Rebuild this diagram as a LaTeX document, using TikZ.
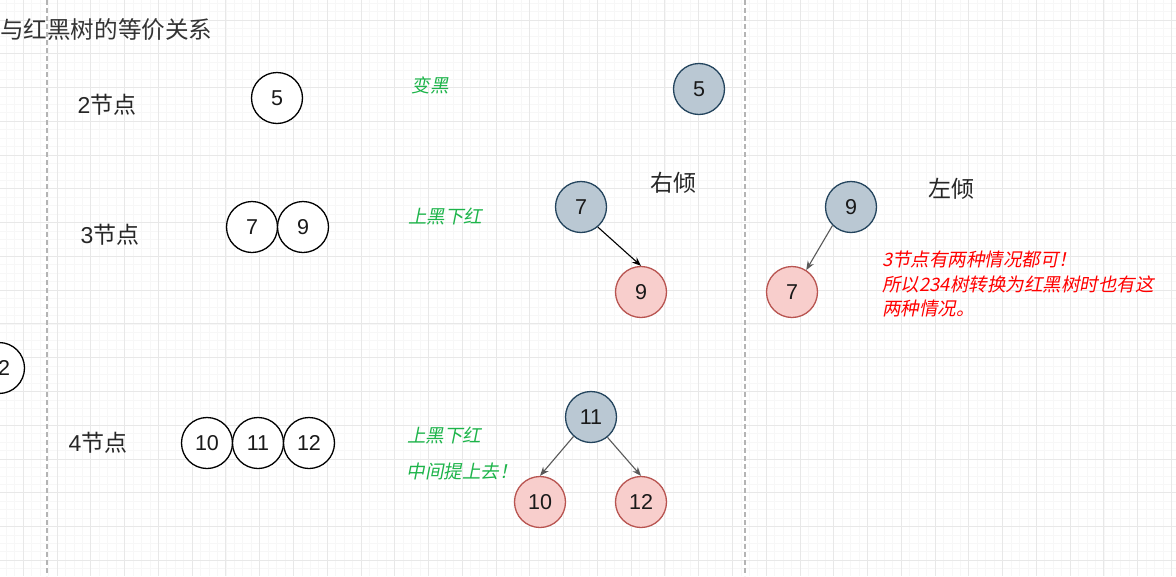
\documentclass[tikz,border=0pt]{standalone}
\usepackage{fontspec}
\setmainfont{Liberation Sans}
\newfontfamily\cjk{Noto Sans CJK SC}
\newfontfamily\cjkit{Noto Sans CJK SC}[FakeSlant=0.2]
\usetikzlibrary{arrows.meta}
\definecolor{bluefill}{HTML}{BAC8D3}
\definecolor{blueline}{HTML}{23445D}
\definecolor{redfill}{HTML}{F8CECC}
\definecolor{redline}{HTML}{B85450}
\definecolor{notegreen}{HTML}{1DB44A}
\definecolor{gridmajor}{HTML}{E8E8E8}
\definecolor{gridminor}{HTML}{F7F7F7}
\definecolor{sepline}{HTML}{B4B4B4}

\begin{document}
\begin{tikzpicture}[x=1pt,y=-1pt,
    key/.style={circle,draw,line width=1.3pt,minimum size=51pt,inner sep=0pt,
        fill=white,text=black!90,font=\fontsize{21.5}{21.5}\selectfont},
    blackkey/.style={key,fill=bluefill,draw=blueline},
    redkey/.style={key,fill=redfill,draw=redline},
    kindtext/.style={text=black!85,font=\fontsize{23}{23}\selectfont},
    greennote/.style={text=notegreen,font=\fontsize{18.5}{18.5}\cjkit},
    rednote/.style={text=red,align=left,font=\fontsize{18.5}{24.5}\cjkit},
    link/.style={-{Stealth[length=9pt,width=7pt]},line width=1.1pt}]
    \def\gs{33.77}%大格
    \def\gm{8.4425}%小格
    \useasboundingbox (0,0) rectangle (1176,576);
    \fill[white] (0,0) rectangle (1176,576);
    %背景网格
    \foreach \i in {-3,...,136} \draw[gridminor,line width=0.8pt] ({23.3+\gm*\i},0) -- ({23.3+\gm*\i},576);
    \foreach \i in {-3,...,66} \draw[gridminor,line width=0.8pt] (0,{20+\gm*\i}) -- (1176,{20+\gm*\i});
    \foreach \i in {-1,...,34} \draw[gridmajor,line width=1pt] ({23.3+\gs*\i},0) -- ({23.3+\gs*\i},576);
    \foreach \i in {-1,...,17} \draw[gridmajor,line width=1pt] (0,{20+\gs*\i}) -- (1176,{20+\gs*\i});
    %分隔虚线
    \coordinate (sepa) at (47,0);
    \coordinate (sepb) at (745,0);
    \draw[sepline,line width=1.3pt,dash pattern=on 5pt off 3pt] (sepa) -- ++(0,576);
    \draw[sepline,line width=1.3pt,dash pattern=on 5pt off 3pt] (sepb) -- ++(0,576);
    \node[anchor=west,inner sep=0pt,text=black!80,font=\fontsize{23.6}{23.6}\cjk] (title) at (0,30) {与红黑树的等价关系};
    %左边: 234树的节点
    \node[kindtext] (two) at (107,105) {2{\cjk 节点}};
    \node[kindtext] (three) at (110,235) {3{\cjk 节点}};
    \node[kindtext] (four) at (98,443) {4{\cjk 节点}};
    \node[key] (n5) at (277,98) {5};
    \node[key] (n7) at (252,227) {7};
    \node[key] (n9) at (303,227) {9};
    \node[key] (n2) at (-1,368) {};
    \node[text=black!90,font=\fontsize{21.5}{21.5}\selectfont] (n2text) at (4,368) {2};
    \node[key] (n10) at (207,443) {10};
    \node[key] (n11) at (258,443) {11};
    \node[key] (n12) at (309,443) {12};
    %说明文字
    \node[greennote] (tob) at (430,85) {变黑};
    \node[greennote] (upa) at (445,217) {上黑下红};
    \node[greennote] (upb) at (444,436) {上黑下红};
    \node[greennote] (mid) at (462,471) {中间提上去！};
    %右边: 红黑树
    \node[blackkey] (b5) at (699,89) {5};
    \node[blackkey] (rb7) at (581,207) {7};
    \node[redkey] (rr9) at (641,292) {9};
    \node[kindtext,font=\fontsize{23}{23}\cjk] (rlean) at (673,183) {右倾};
    \draw[link] (rb7.-50) -- (rr9.north);
    \node[blackkey] (lb9) at (851,207) {9};
    \node[redkey] (lr7) at (792,292) {7};
    \node[kindtext,font=\fontsize{23}{23}\cjk] (llean) at (951,189) {左倾};
    \draw[link,black!65] (lb9.225) -- (lr7.57);
    \node[rednote,anchor=north west,inner sep=0pt] (note) at (882,251) {3节点有两种情况都可！\\所以234树转换为红黑树时也有这\\两种情况。};
    \node[blackkey] (tb11) at (591,417) {11};
    \node[redkey] (tr10) at (540,502) {10};
    \node[redkey] (tr12) at (641,502) {12};
    \draw[link,black!65] (tb11.-132) -- (tr10.north);
    \draw[link,black!65] (tb11.-51) -- (tr12.north);
\end{tikzpicture}
\end{document}
